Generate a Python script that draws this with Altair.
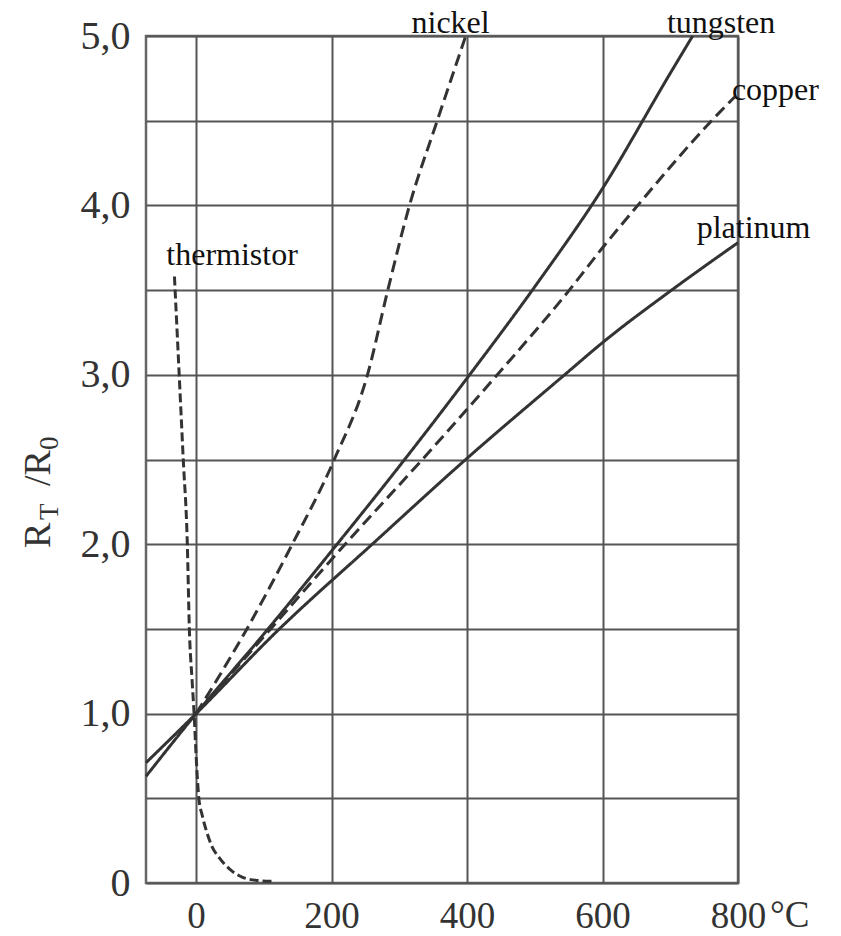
import altair as alt
import pandas as pd

# ---- data ----
thermistor_T = [-32, -28, -25, -19, -13, -10, -6, -3, 0, 4, 9, 15, 24, 34, 50, 68, 90, 115]
thermistor_R = [3.58, 3.25, 3.0, 2.5, 2.0, 1.5, 1.2, 1.0, 0.75, 0.5, 0.4, 0.31, 0.21, 0.15, 0.08, 0.035, 0.015, 0.01]

nickel_T = [0, 75, 142, 204, 253, 283, 315, 356, 398]
nickel_R = [1.0, 1.5, 2.0, 2.5, 3.0, 3.5, 4.0, 4.5, 5.0]

tungsten_T = [-74, 0, 100, 200, 300, 400, 500, 600, 700, 733]
tungsten_R = [0.63, 1.0, 1.47, 1.96, 2.46, 2.98, 3.52, 4.1, 4.78, 5.0]

copper_T = [0, 110, 220, 334, 438, 551, 600, 652, 761, 795]
copper_R = [1.0, 1.5, 2.0, 2.5, 2.97, 3.5, 3.75, 4.0, 4.5, 4.64]

platinum_T = [-74, 0, 123, 260, 398, 544, 600, 702, 800]
platinum_R = [0.71, 1.0, 1.5, 2.0, 2.5, 3.0, 3.19, 3.5, 3.78]

series_names = ["thermistor", "nickel", "tungsten", "copper", "platinum"]
series_dash = [[9, 4], [12, 6], [1, 0], [12, 6], [1, 0]]

label_names = ["thermistor", "nickel", "tungsten", "copper", "platinum"]
label_T = [-44, 318, 695, 791, 739]
label_R = [3.65, 5.02, 5.02, 4.62, 3.81]

x_ticks = [0, 200, 400, 600, 800]
y_grid = [0, 0.5, 1, 1.5, 2, 2.5, 3, 3.5, 4, 4.5, 5]

# ---- build tables ----
rows = []
for name, T, R in [("thermistor", thermistor_T, thermistor_R),
                   ("nickel", nickel_T, nickel_R),
                   ("tungsten", tungsten_T, tungsten_R),
                   ("copper", copper_T, copper_R),
                   ("platinum", platinum_T, platinum_R)]:
    for i, (t, r) in enumerate(zip(T, R)):
        rows.append({"series": name, "T": t, "R": r, "order": i})
df = pd.DataFrame(rows)
labels = pd.DataFrame({"name": label_names, "T": label_T, "R": label_R})

FONT = "Liberation Serif"
INK = "#333333"

x_scale = alt.Scale(domain=[-74, 800], nice=False, zero=False)
y_scale = alt.Scale(domain=[0, 5], nice=False)

lines = alt.Chart(df).mark_line(color=INK, strokeWidth=3, interpolate="monotone").encode(
    x=alt.X("T:Q", scale=x_scale,
            axis=alt.Axis(values=x_ticks, title=None, ticks=False, domain=False,
                          labelFont=FONT, labelFontSize=37, labelColor=INK,
                          labelPadding=44, labelBaseline="alphabetic",
                          grid=True, gridColor="#555555", gridWidth=2,
                          labelFlush=False)),
    y=alt.Y("R:Q", scale=y_scale,
            axis=alt.Axis(values=y_grid, title=None, ticks=False, domain=False,
                          labelFont=FONT, labelFontSize=40, labelColor=INK,
                          labelPadding=16,
                          labelExpr="datum.value == 0 ? '0' : (datum.value % 1 == 0 ? replace(format(datum.value, '.1f'), '.', ',') : '')",
                          grid=True, gridColor="#555555", gridWidth=2,
                          labelFlush=False)),
    strokeDash=alt.StrokeDash("series:N",
                              scale=alt.Scale(domain=series_names, range=series_dash),
                              legend=None),
    detail="series:N",
    order="order:Q",
)

curve_labels = alt.Chart(labels).mark_text(
    font=FONT, fontSize=32, color="#111111", align="left", baseline="alphabetic"
).encode(x=alt.X("T:Q", scale=x_scale), y=alt.Y("R:Q", scale=y_scale), text="name:N")

# axis title R_T / R_0 with subscripts, and the °C unit
title_parts = pd.DataFrame({
    "txt": ["R", "T", "/R", "0"],
    "px": [-96, -88, -96, -88],
    "py": [512, 484, 450, 414],
    "size": [38, 27, 38, 27],
})
title_marks = alt.Chart(title_parts).mark_text(
    font=FONT, color=INK, angle=270, align="left", baseline="alphabetic"
).encode(
    x=alt.X("px:Q", scale=None), y=alt.Y("py:Q", scale=None),
    text="txt:N", size=alt.Size("size:Q", scale=None, legend=None),
)

unit = pd.DataFrame({"txt": ["°C"], "px": [624], "py": [891]})
unit_mark = alt.Chart(unit).mark_text(
    font=FONT, fontSize=37, color=INK, align="left", baseline="alphabetic"
).encode(x=alt.X("px:Q", scale=None), y=alt.Y("py:Q", scale=None), text="txt:N")

chart = alt.layer(lines, curve_labels, title_marks, unit_mark).properties(
    width=592, height=847,
    autosize=alt.AutoSizeParams(type="none"),
    padding={"left": 146, "top": 36, "right": 103, "bottom": 53},
    background="white",
).configure_view(stroke="#666666", strokeWidth=2.5)

chart.save("out.html", embed_options={"renderer": "svg", "actions": False})
